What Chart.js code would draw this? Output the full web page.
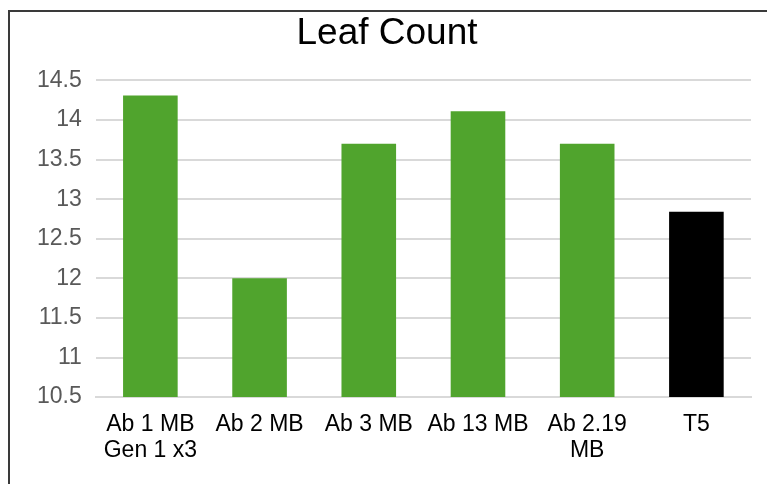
<!DOCTYPE html>
<html>
<head>
<meta charset="utf-8">
<script src="https://cdn.jsdelivr.net/npm/chart.js@4/dist/chart.umd.min.js"></script>
<style>
  html, body { margin: 0; padding: 0; background: #fff; }
  #wrap { position: relative; width: 767px; height: 484px; overflow: hidden; }
  #frame {
    position: absolute; left: 8px; top: 10px; right: -10px; bottom: -10px;
    border-left: 2px solid #3a3a3a; border-top: 2px solid #3a3a3a;
  }
  #leafChart { position: absolute; left: 0; top: 0; }
</style>
</head>
<body>
<div id="wrap">
  <div id="frame"></div>
  <canvas id="leafChart" width="767" height="484"></canvas>
</div>
<script>
// categories and values
var leaf_labels = [['Ab 1 MB', 'Gen 1 x3'], 'Ab 2 MB', 'Ab 3 MB', 'Ab 13 MB', ['Ab 2.19', 'MB'], 'T5'];
var leaf_values = [14.31, 12.0, 13.7, 14.11, 13.7, 12.84];
var bar_colors = ['#50a42d', '#50a42d', '#50a42d', '#50a42d', '#50a42d', '#000000'];

var y_min = 10.5;
var y_max = 14.5;
var y_step = 0.5;

var leaf_ctx = document.getElementById("leafChart");

var leaf_chart = new Chart(leaf_ctx, {
    type: 'bar',
    data: {
        labels: leaf_labels,
        datasets: [{
            label: 'Leaf Count',
            data: leaf_values,
            backgroundColor: bar_colors,
            borderWidth: 0,
            barPercentage: 0.5,
            categoryPercentage: 1.0,
        }]
    },
    options: {
        responsive: false,
        animation: false,
        layout: {
            padding: { left: 23, right: 16, top: 8, bottom: 6 }
        },
        plugins: {
            legend: { display: false },
            tooltip: { enabled: false },
            title: {
                display: true,
                text: 'Leaf Count',
                color: '#000000',
                font: { family: 'Liberation Sans, Arial, sans-serif', size: 37, weight: 'normal' },
                padding: { top: 4, bottom: 24 }
            }
        },
        scales: {
            x: {
                grid: { display: false, drawTicks: false },
                border: { display: true, color: '#d9d9d9', width: 2 },
                ticks: {
                    color: '#000000',
                    padding: 14,
                    maxRotation: 0,
                    autoSkip: false,
                    font: { family: 'Liberation Sans, Arial, sans-serif', size: 23, lineHeight: 1.15 }
                }
            },
            y: {
                min: y_min,
                max: y_max,
                grid: { color: '#d9d9d9', lineWidth: 2, drawTicks: false },
                border: { display: false },
                ticks: {
                    stepSize: y_step,
                    color: '#595959',
                    padding: 14,
                    font: { family: 'Liberation Sans, Arial, sans-serif', size: 23 },
                    callback: function (v) { return String(Math.round(v * 10) / 10); }
                }
            }
        }
    }
});
</script>
</body>
</html>
